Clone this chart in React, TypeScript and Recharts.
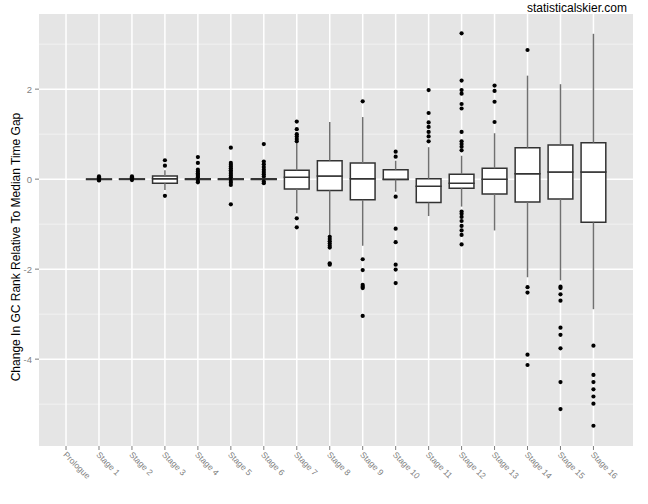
import React from "react";
import {
  ComposedChart,
  Scatter,
  XAxis,
  YAxis,
  CartesianGrid,
  ReferenceArea,
  ReferenceLine,
} from "recharts";

const stages = [
  "Prologue", "Stage 1", "Stage 2", "Stage 3", "Stage 4", "Stage 5", "Stage 6",
  "Stage 7", "Stage 8", "Stage 9", "Stage 10", "Stage 11", "Stage 12",
  "Stage 13", "Stage 14", "Stage 15", "Stage 16",
];

// box stats per stage (Prologue has no data)
const lowerWhisker = [null, -0.01, -0.01, -0.24, 0, 0, 0, -0.76, -1.26, -1.48, -0.28, -0.82, -0.61, -1.14, -2.18, -2.25, -2.89];
const q1 = [null, -0.006, -0.006, -0.09, -0.008, -0.008, -0.008, -0.22, -0.25, -0.46, -0.01, -0.52, -0.2, -0.33, -0.51, -0.44, -0.96];
const medians = [null, 0, 0, 0.01, 0, 0, 0, 0.04, 0.07, 0.01, 0, -0.16, -0.09, 0, 0.12, 0.16, 0.16];
const q3 = [null, 0.006, 0.006, 0.07, 0.008, 0.008, 0.008, 0.2, 0.41, 0.36, 0.21, 0.01, 0.11, 0.24, 0.7, 0.76, 0.81];
const upperWhisker = [null, 0.01, 0.01, 0.2, 0, 0, 0, 0.8, 1.27, 1.38, 0.41, 0.71, 0.52, 1.02, 2.3, 2.11, 3.23];

const outliers: number[][] = [
  [],
  [0.06, 0.04, 0.02, -0.02, -0.03],
  [0.06, 0.04, 0.02, -0.02],
  [0.42, 0.3, -0.37],
  [0.49, 0.36, 0.21, 0.17, 0.13, 0.1, 0.07, 0.04, -0.04, -0.07],
  [0.7, 0.36, 0.32, 0.28, 0.24, 0.2, 0.16, 0.12, 0.08, 0.04, -0.04, -0.08, -0.13, -0.56],
  [0.78, 0.39, 0.33, 0.27, 0.21, 0.16, 0.11, 0.06, -0.05, -0.09],
  [1.28, 1.11, 1.0, 0.95, 0.89, 0.84, -0.87, -1.07],
  [-1.28, -1.33, -1.38, -1.43, -1.48, -1.52, -1.87, -1.9],
  [1.73, -1.78, -2.02, -2.35, -2.39, -2.42, -3.04],
  [0.61, 0.5, -0.39, -1.1, -1.4, -1.9, -2.01, -2.31],
  [1.98, 1.47, 1.26, 1.16, 1.05, 0.95, 0.84],
  [3.24, 2.19, 1.98, 1.9, 1.67, 1.57, 1.05, 0.84, 0.78, 0.72, 0.64, -0.72, -0.77, -0.84, -0.93, -1.04, -1.14, -1.24, -1.45],
  [2.08, 1.96, 1.72, 1.27],
  [2.87, -2.4, -2.52, -3.9, -4.13],
  [-2.39, -2.42, -2.56, -2.7, -3.3, -3.46, -3.76, -4.51, -5.11],
  [-3.7, -4.35, -4.51, -4.67, -4.83, -4.99, -5.48],
];

const yTicks = [-4, -2, 0, 2];
const yMinor = [-5, -3, -1, 1, 3];

const FONT = "'Liberation Sans', Arial, Helvetica, sans-serif";
const HALF = 0.375;

const outlierPoints = outliers.flatMap((vals, i) => vals.map((v) => ({ x: i, y: v })));

const StageTick = (props: any) => {
  const { x, y, payload } = props;
  return (
    <g transform={`translate(${x},${y})`}>
      <text
        transform="rotate(45)"
        textAnchor="start"
        dy="0.55em"
        fontSize={8.5}
        fill="#7f7f7f"
        fontFamily={FONT}
      >
        {stages[payload.value]}
      </text>
    </g>
  );
};

const ValueTick = (props: any) => {
  const { x, y, payload } = props;
  return (
    <text
      x={x}
      y={y}
      textAnchor="end"
      dominantBaseline="central"
      fontSize={9.5}
      fill="#7f7f7f"
      fontFamily={FONT}
    >
      {String(payload.value)}
    </text>
  );
};

const YTitle = (props: any) => {
  const vb = props.viewBox;
  const cy = vb.y + vb.height / 2 + 17;
  return (
    <text
      x={16}
      y={cy}
      transform={`rotate(-90, 16, ${cy})`}
      textAnchor="middle"
      dominantBaseline="central"
      fontSize={12}
      fill="#000"
      fontFamily={FONT}
    >
      Change In GC Rank Relative To Median Time Gap
    </text>
  );
};

export default function App() {
  const idx = stages.map((_, i) => i);
  return (
    <div style={{ position: "absolute", left: 0, top: 0, width: 648, height: 504, background: "#fff" }}>
      <div
        style={{
          position: "absolute",
          left: 400,
          width: 227,
          top: 1,
          lineHeight: "14px",
          textAlign: "right",
          fontSize: 12,
          fontFamily: FONT,
          color: "#000",
        }}
      >
        statisticalskier.com
      </div>
      <ComposedChart width={648} height={504} margin={{ top: 14, right: 15, bottom: 0, left: 0 }}>
        <CartesianGrid
          fill="#e5e5e5"
          stroke="#f2f2f2"
          strokeWidth={1}
          vertical={false}
          horizontalValues={yMinor}
        />
        <CartesianGrid
          stroke="#ffffff"
          strokeWidth={1.5}
          horizontalValues={yTicks}
          verticalValues={idx}
        />
        <XAxis
          type="number"
          dataKey="x"
          domain={[-0.82, 17.2]}
          ticks={idx}
          interval={0}
          allowDataOverflow
          height={58}
          tickSize={4}
          tickLine={{ stroke: "#7f7f7f" }}
          axisLine={false}
          tick={<StageTick />}
        />
        <YAxis
          type="number"
          dataKey="y"
          domain={[-5.93, 3.67]}
          ticks={yTicks}
          allowDataOverflow
          width={39}
          tickSize={4}
          tickMargin={3}
          tickLine={{ stroke: "#7f7f7f" }}
          axisLine={false}
          tick={<ValueTick />}
          label={<YTitle />}
        />
        {idx.map((i) =>
          upperWhisker[i] === null ? null : (
            <ReferenceLine
              key={`wu${i}`}
              segment={[{ x: i, y: q3[i] as number }, { x: i, y: upperWhisker[i] as number }]}
              stroke="#707070"
              strokeWidth={1.5}
            />
          )
        )}
        {idx.map((i) =>
          lowerWhisker[i] === null ? null : (
            <ReferenceLine
              key={`wl${i}`}
              segment={[{ x: i, y: q1[i] as number }, { x: i, y: lowerWhisker[i] as number }]}
              stroke="#707070"
              strokeWidth={1.5}
            />
          )
        )}
        {idx.map((i) =>
          q1[i] === null ? null : (
            <ReferenceArea
              key={`bl${i}`}
              x1={i - HALF}
              x2={i + HALF}
              y1={q1[i] as number}
              y2={medians[i] as number}
              fill="#ffffff"
              fillOpacity={1}
              stroke="#333333"
              strokeWidth={1.5}
            />
          )
        )}
        {idx.map((i) =>
          q3[i] === null ? null : (
            <ReferenceArea
              key={`bu${i}`}
              x1={i - HALF}
              x2={i + HALF}
              y1={medians[i] as number}
              y2={q3[i] as number}
              fill="#ffffff"
              fillOpacity={1}
              stroke="#333333"
              strokeWidth={1.5}
            />
          )
        )}
        <Scatter
          data={outlierPoints}
          dataKey="y"
          isAnimationActive={false}
          shape={(p: any) => <circle cx={p.cx} cy={p.cy} r={2.1} fill="#000" />}
        />
      </ComposedChart>
    </div>
  );
}
